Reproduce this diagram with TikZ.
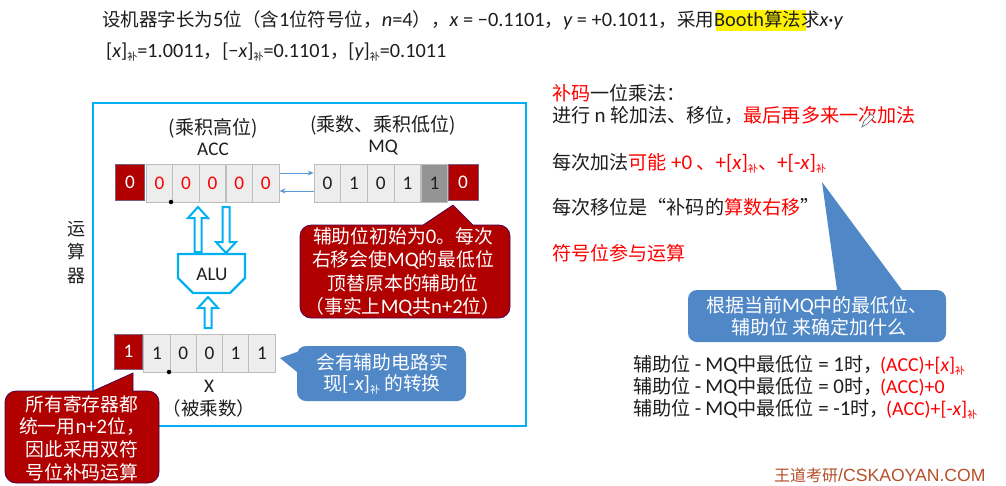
\documentclass[tikz,border=0pt]{standalone}
\usepackage{fontspec}
\setmainfont{Noto Sans CJK SC}
\newfontfamily\latf[Scale=1.1]{Carlito}
\newfontfamily\wmf[Scale=1.1]{Liberation Sans}
\usetikzlibrary{arrows.meta,calc}
\definecolor{frameblue}{HTML}{00B0F0}
\definecolor{darkred}{HTML}{B00000}
\definecolor{calloutblue}{HTML}{4F87C7}
\definecolor{thinblue}{HTML}{5B9BD5}
\definecolor{cellfill}{HTML}{EDEDED}
\definecolor{cellline}{HTML}{BDBDBD}
\definecolor{txt}{HTML}{1E1E1E}
\definecolor{wm}{HTML}{B5502A}
\newcommand\la[1]{{\latf #1}}
\newcommand\li[1]{{\latf\itshape #1}}
\newcommand\bu{\raisebox{-3.5pt}{\fontsize{10}{10}\selectfont 补}}
\newcommand\fs[1]{\fontsize{#1}{#1}\selectfont}
\newcommand\blockup[3]{\draw[blockarr] (#1-3.5,#3) -- (#1-3.5,#2+11) -- (#1-10,#2+11) -- (#1,#2) -- (#1+10,#2+11) -- (#1+3.5,#2+11) -- (#1+3.5,#3) -- cycle;}
\newcommand\blockdown[3]{\draw[blockarr] (#1-3.5,#2) -- (#1-3.5,#3-11) -- (#1-10,#3-11) -- (#1,#3) -- (#1+10,#3-11) -- (#1+3.5,#3-11) -- (#1+3.5,#2) -- cycle;}
\tikzset{
  cellbox/.style={draw=cellline,fill=cellfill,line width=1pt,minimum width=26.4pt,minimum height=38pt,inner sep=0pt,font=\latf\fs{17.5},text=txt},
  redcell/.style={cellbox,text=red},
  greycell/.style={cellbox,fill=black!42},
  signbox/.style={draw=thinblue!60!darkred,fill=darkred,line width=.6pt,minimum width=28.5pt,minimum height=36pt,inner sep=0pt,font=\latf\fs{17.5},text=white},
  lbl/.style={inner sep=0pt,font=\fs{19},text=txt},
  linetxt/.style={inner sep=0pt,anchor=base west,font=\fs{19.1},text=txt},
  redcall/.style={fill=darkred,draw=black!45!blue!60!darkred,line width=.7pt},
  bluecall/.style={fill=calloutblue,draw=none},
  calltxt/.style={inner sep=0pt,align=center,text=white},
  thinarr/.style={draw=thinblue,line width=1pt,-{Stealth[length=6pt,width=5pt]}},
  blockarr/.style={draw=frameblue,line width=2pt,fill=white,line join=miter},
}
\begin{document}
\begin{tikzpicture}[x=1pt,y=-1pt]
\useasboundingbox (0,0) rectangle (1006,485);
\fill[white] (0,0) rectangle (1006,485);

% header
\fill[yellow] (716,10) rectangle (806,31);
\node[linetxt,font=\fs{18.5}] (head1) at (102,26) {设机器字长为\la{5}位（含\la{1}位符号位，\li{n}\la{=4}），\li{x}\la{ = −0.1101}，\li{y}\la{ = +0.1011}，采用\la{Booth}算法求\li{x}\la{·}\li{y}};
\node[linetxt,font=\fs{18.4}] (head2) at (106,57) {\la{[}\li{x}\la{]}\bu\la{=1.0011}，\la{[−}\li{x}\la{]}\bu\la{=0.1101}，\la{[}\li{y}\la{]}\bu\la{=0.1011}};

% frame
\draw[frameblue,line width=2.4pt] (93,103) rectangle (526,426);
\node[lbl,font=\fs{18}] (cpu) at (76,229) {运};
\node[lbl,font=\fs{18}] (cpu2) at (76,252) {算};
\node[lbl,font=\fs{18}] (cpu3) at (76,276) {器};

% register labels
\node[lbl] (acct) at (213,128) {(乘积高位)};
\node[lbl,font=\latf\fs{17.5}] (accl) at (213,149) {ACC};
\node[lbl] (mqt) at (383,125) {(乘数、乘积低位)};
\node[lbl,font=\latf\fs{17.5}] (mql) at (383,148) {MQ};

% ACC
\node[signbox] (accs) at (130,182) {0};
\foreach \i/\cx in {1/159.4,2/186,3/212.6,4/239.2,5/265.8}
  \node[redcell] (acc\i) at (\cx,183) {0};
\node[circle,fill=black,inner sep=0pt,minimum size=4.5pt] (accdot) at (171,202) {};

% MQ
\foreach \i/\cx/\v in {1/327.4/0,2/354/1,3/380.8/0,4/407.6/1}
  \node[cellbox] (mq\i) at (\cx,183) {\v};
\node[greycell] (mq5) at (434.4,183) {1};
\node[signbox,minimum width=30pt] (aux) at (463,182) {0};

\draw[thinarr] ([yshift=10pt]acc5.east) -- ([yshift=10pt]mq1.west);
\draw[thinarr] ([yshift=-8pt]mq1.west) -- ([yshift=-8pt]acc5.east);

% ALU
\draw[frameblue,line width=2.2pt,fill=white,line join=miter] (178,254) -- (245,254) -- (245,278) -- (230,293) -- (193,293) -- (178,278) -- cycle;
\node[lbl,font=\latf\fs{17.5}] (alu) at (212,274) {ALU};
\blockup{198}{207}{252}
\blockdown{226}{207}{253}
\blockup{208}{297}{328}

% X
\node[signbox,minimum height=35pt] (xs) at (128.5,351.5) {1};
\foreach \i/\cx/\v in {1/157/1,2/183.2/0,3/209.4/0,4/235.6/1,5/262/1}
  \node[cellbox,minimum width=26.2pt] (x\i) at (\cx,353) {\v};
\node[circle,fill=black,inner sep=0pt,minimum size=4.5pt] (xdot) at (169,372) {};
\node[lbl,font=\latf\fs{17.5}] (xl) at (209,386) {X};
\node[lbl,font=\fs{18.5}] (xt) at (209,408) {（被乘数）};

% callouts
\draw[redcall] (423,225) [rounded corners=11pt] -- (300,225) -- (300,318) -- (510,318) -- (510,225) [sharp corners] -- (473,225) -- (453,205) -- cycle;
\node[calltxt,font=\fontsize{18.8}{23.3}\selectfont] (c1) at (403,272) {辅助位初始为\la{0}。每次\\右移会使\la{MQ}的最低位\\顶替原本的辅助位\\（事实上\la{MQ}共\la{n+2}位）};

\draw[redcall] (93,391) [rounded corners=11pt] -- (5,391) -- (5,483) -- (159,483) -- (159,391) [sharp corners] -- (133,391) -- (133,373) -- cycle;
\node[calltxt,font=\fontsize{18.8}{22.7}\selectfont] (c2) at (82,438) {所有寄存器都\\统一用\la{n+2}位，\\因此采用双符\\号位补码运算};

\fill[bluecall] (297,352) [rounded corners=9pt] -- (297,346) -- (466,346) -- (466,401) -- (297,401) [sharp corners] -- (297,372) -- (280,358) -- cycle;
\node[calltxt,font=\fontsize{18.8}{21}\selectfont] (c3) at (382,374) {会有辅助电路实\\现\la{[-}\li{x}\la{]}\bu{} 的转换};

\fill[bluecall] (837,290) [rounded corners=9pt] -- (688,290) -- (688,342) -- (946,342) -- (946,290) [sharp corners] -- (902,290) -- (822,182) -- cycle;
\node[calltxt,font=\fontsize{19}{22}\selectfont] (c4) at (817,316) {根据当前\la{MQ}中的最低位、\\\ 辅助位 来确定加什么};

% right column
\node[linetxt] (r1) at (552,100) {\textcolor{red}{补码}一位乘法：};
\node[linetxt] (r2) at (552,122) {进行 \la{n} 轮加法、移位，\textcolor{red}{最后再多来一次加法}};
\node[linetxt] (r3) at (552,169) {每次加法\textcolor{red}{可能 \la{+0} 、\la{+[}\li{x}\la{]}\bu、\la{+[-}\li{x}\la{]}\bu}};
\node[linetxt] (r4) at (552,214) {每次移位是“补码的\textcolor{red}{算数右移}”};
\node[linetxt,text=red] (r5) at (552,260) {符号位参与运算};

\node[linetxt] (t1) at (633,371) {辅助位 \la{-} \la{MQ}中最低位 \la{= 1}时，};
\node[linetxt] (t2) at (633,393) {辅助位 \la{-} \la{MQ}中最低位 \la{= 0}时，};
\node[linetxt] (t3) at (633,415) {辅助位 \la{-} \la{MQ}中最低位 \la{= -1}时，};
\node[linetxt,text=red,font=\fs{18}] (u1) at (880,371) {\la{(ACC)+[}\li{x}\la{]}\bu};
\node[linetxt,text=red,font=\fs{18}] (u2) at (880,393) {\la{(ACC)+0}};
\node[linetxt,text=red,font=\fs{18}] (u3) at (886,415) {\la{(ACC)+[-}\li{x}\la{]}\bu};

% pencil cursor
\draw[black!55,line width=.7pt,fill=white] (862,127) -- (864,121) -- (871,114) -- (874,117) -- (867,124) -- cycle;

% watermark
\node[linetxt,text=wm,font=\fs{16}] (wmk) at (774,481) {王道考研\wmf /CSKAOYAN.COM};
\end{tikzpicture}
\end{document}
